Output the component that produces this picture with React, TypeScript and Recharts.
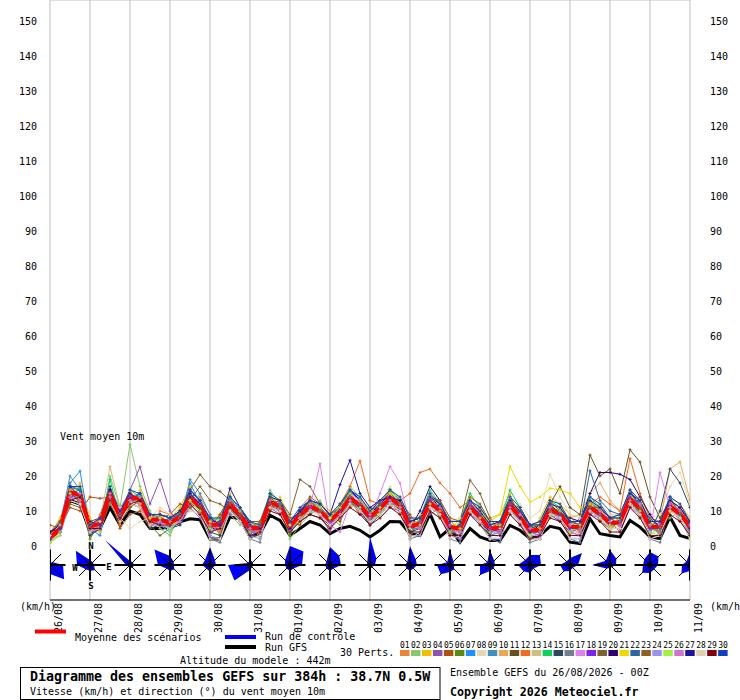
import React from 'react';
import { ComposedChart, Line, Scatter, XAxis, YAxis, CartesianGrid } from 'recharts';

const dayLabels = ['26/08','27/08','28/08','29/08','30/08','31/08','01/09','02/09','03/09','04/09','05/09','06/09','07/09','08/09','09/09','10/09','11/09'];
const dayTicks = [0, 4, 8, 12, 16, 20, 24, 28, 32, 36, 40, 44, 48, 52, 56, 60, 64];
const yTicks = [0, 10, 20, 30, 40, 50, 60, 70, 80, 90, 100, 110, 120, 130, 140, 150];

const meanRun = [2.4,5,15.4,14.5,5.6,6.4,15,8.3, 14,13.5,7.5,7.5,6.6,8.3,13.8,11.3, 6.1,6.1,12,8.8,5.1,5.1,12.6,11.3, 5.6,8.8,11.3,10,7.3,9.7,13.8,11.6, 8.3,10.7,13.8,11.6,5.6,6.4,12.3,10.2, 5.4,5,11,8.3,5,5.2,11.6,8.3, 4.3,4.7,10.4,9.2,5.4,5.4,11,9.2, 6.4,6.9,13.5,10.7,5.4,5.4,11.3,9.2, 5.6];
const gfsRun = [3,6,13,12,4,5,11,6, 10,9,5,5,5.5,6.9,7.8,7.5, 2,2,8.3,7.8,2.6,3.5,8.8,7.3, 3,5,7,6,3.5,5,5.6,4.5, 2.6,4.5,7,6.9,3.5,3,9.2,2.6, 5,1.1,5,2.6,1.6,1.6,5.9,4.5, 2.1,3,5.6,5,1.1,0.7,7.8,3.5, 3,2.6,7.3,5.4,2.6,2.1,8.3,3, 2.1];
const controlRun = [2,6,17,16,5,7,14,8, 13,15,9,8,6,9,16,13, 5,5,14,10,4,4,13,12, 6,10,13,11,8,11,16,13, 9,12,15,12,5,6,14,11, 5,4,12,9,4,5,13,9, 4,4,11,10,5,5,12,10, 6,7,15,12,5,5,12,9, 5];

const p01 = [4,7,18,13,3,9,17,6, 16,11,5,10,9,7,12,14, 9,4,10,11,7,3,15,9, 4,11,14,8,5,12,16,10, 6,13,16,9,3,8,14,13, 8,3,9,11,7,4,10,11, 6,3,13,8,3,7,13,7, 9,5,16,9,7,3,14,8, 7];
const p02 = [1,3,13,17,6,4,20,11, 29,17,10,5,3,9,10,15, 4,8,9,6,7,2,16,12, 2,6,9,13,8,6,17,14, 10,8,11,13,6,3,10,8, 3,7,13,6,2,6,9,6, 2,6,8,11,6,3,12,11, 4,8,11,12,3,6,8,10, 3];
const p03 = [3,8,14,18,8,4,13,9, 11,16,9,6,8,11,17,9, 7,9,15,7,4,7,10,14, 8,7,11,12,10,8,11,13, 9,11,15,14,8,5,15,9, 4,8,14,7,8,9,15,7, 3,8,14,12,9,4,10,12, 5,9,12,14,8,4,14,12, 8];
const p04 = [2,6,16,12,4,8,12,10, 16,22.6,12,19,10,6,11,8, 3,7,9,10,3,7,11,9, 7,10,13,9,4,11,15,9, 7,12,11,10,4,7,9,11, 6,2,12,10,3,7,13,6, 5,2,11,7,5,8,9,11, 7,4,11,12,4,7,13,7, 4];
const p05 = [6,5,11,10,14,13.6,14,5, 9,10,5,8,9,12,11,13, 5,9,14,8,6,3,10,13, 7,6,14,12,9,7,13,9, 11,9,16,13,9,5,11,12, 3,6,10,10,4,7,14,9, 6,4,12,8,7,6,10,8, 8,6,14,9,8,5,10,11, 6];
const p06 = [1,4,16,14,2,7,14,7, 12,11,6,3,5,10,14,11, 8,3,11,7,4,5,14,10, 3,9,9,11,6,10,12,11, 7,10,14,10,2,9,13,8, 6,4,11,7,6,3,12,9, 4,5,9,10,4,6,12,7, 5,7,15,8,6,4,12,10, 5];
const p07 = [3,4,18,21.4,5,3,15,10, 14,15,9,6,4,8,18,12, 5,6,13,9,2,6,13,11, 6,8,12,9,8,9,14,12, 8,12,13,11,5,7,12,11, 5,5,10,9,3,4,13,8, 3,6,11,10,4,5,10,9, 7,7,13,10,5,7,14,8, 6];
const p08 = [4,6,14,15,6,7,12,8, 5,7,8,11,9,8,10,9, 7,8,14,10,7,4,11,13, 7,11,13,10,9,8,12,13, 11,12,17,11,7,9,14,12, 7,8,13,11,7,5,14,12, 8,10,20.5,14,9,8,14,12, 9,9,16,13,8,9,17,21, 12];
const p09 = [2,6,20,16,4,6,16,11, 15,12,6,9,8,7,19,15, 9,5,14,8,5,5,11,12, 4,10,10,11,6,11,13,11, 10,12,13,12,5,5,11,9, 5,6,10,7,6,4,10,8, 4,3,9,8,5,5,13,10, 6,8,12,11,5,4,11,9, 4];
const p10 = [3,4,15,14,7,5,16,9, 13,14,6,9,6,8,13,10, 6,7,11,10,4,6,14,10, 7,8,10,11,7,9,15,13, 9,10,13,12,6,5,13,10, 5,4,12,8,5,6,11,9, 6,5,10,11,8,9,15,18, 13,10,14,11,7,7,22,24, 13];
const p11 = [4,5,14,15,7,8,16,8, 13,13,9,8,7,9,12,11, 7,5,13,9,6,4,12,10, 5,10,12,9,8,10,13,13, 8,9,15,10,7,6,13,11, 6,5,11,8,4,6,11,10, 5,6,12,17,11,9,26,20, 22,15,27.5,24,14,8,13,11, 7];
const p12 = [2,6,16,13,5,8,13,7, 15,12,7,6,5,9,14,12, 6,4,10,8,5,7,12,13, 5,10,13,10,9,12,17,24.3, 13,12,16,13,15,21,22,18, 15,11,13,10,5,7,12,8, 4,6,12,9,6,5,12,14, 12,10,25,15,8,7,13,10, 6];
const p13 = [3,5,13,12,4,7,22.7,11, 12,11,7,8,7,8,12,10, 5,7,11,8,6,5,13,11, 6,8,10,11,8,8,12,10, 7,11,12,11,5,7,11,9, 4,6,10,8,4,6,10,9, 5,4,11,9,4,4,12,8, 5,6,12,9,6,6,13,9, 5];
const p14 = [3,6,17,16,6,5,19,8, 16,14,8,9,8,10,15,12, 7,8,14,11,7,7,15,11, 7,10,13,10,9,11,16,14, 10,13,16,13,7,8,16,12, 7,7,15,11,6,7,16,11, 6,6,13,11,7,7,14,11, 8,8,15,12,6,3,10,8, 3];
const p15 = [2,7,15,13,3,5,13,7, 14,12,5,6,5,6,12,9, 4,3,10,7,3,3,11,10, 4,7,9,8,6,8,12,10, 6,9,12,10,4,5,11,9, 4,3,9,7,3,3,10,7, 2,3,9,7,4,3,10,8, 5,5,12,9,4,10,22,18, 11];
const p16 = [1,5,15,14,4,5,13,7, 13,14,6,6,5,7,14,10, 2,1,12,7,2,1,13,10, 4,7,11,9,6,8,13,10, 7,9,13,10,2,3,12,9, 2,1,11,7,2,1,11,7, 1,2,10,8,2,1,11,8, 5,5,13,9,2,1,11,8, 2];
const p17 = [2,3,13,12,4,5,13,7, 12,11,6,6,5,7,12,9, 4,5,10,7,4,4,11,10, 5,8,11,23.5,6,4,12,10, 8,15,22.7,18,6,5,11,9, 4,4,10,7,4,4,10,7, 3,3,9,8,4,3,9,8, 5,5,11,9,4,21,11,7, 4];
const p18 = [2,6,14,15,6,8,15,9, 14,13,9,7,6,7,15,12, 7,7,11,9,6,4,12,12, 5,9,11,10,7,10,13,12, 9,10,14,11,7,6,13,11, 6,5,12,9,5,4,12,9, 5,4,11,9,5,6,11,10, 7,6,14,12,5,6,12,10, 6];
const p19 = [4,7,13,15,7,6,15,10, 11,13,9,7,8,10,16,20.4, 17,15.6,13,9,7,5,12,13, 9,19,17,12,9,9,13,13, 10,10,15,11,7,8,12,11, 7,7,18.8,15,8,4,11,10, 6,4,10,10,7,4,12,8, 8,6,12,12,7,4,10,10, 4];
const p20 = [2,4,16,13,4,7,16,8, 15,12,7,8,5,9,14,10, 5,7,11,10,4,6,13,10, 5,10,12,9,6,11,15,11, 7,12,13,13,5,10,17,13, 5,6,12,7,4,6,13,8, 4,6,12,9,8,7,15,21, 21,20.5,19,14,9,5,13,9, 5];
const p21 = [1,4,16,13,7,5,14,9, 15,12,8,9,6,7,13,12, 7,5,13,8,6,4,11,12, 7,8,12,9,8,9,13,13, 10,10,15,11,7,6,12,12, 7,5,13,10,7,9,22.7,17, 12.6,14,16.5,16,15,11,12,10, 6,8,12,12,7,5,13,9, 7];
const p22 = [4,6,15,16,5,7,14,10, 13,15,7,6,8,7,15,10, 5,7,13,8,4,6,11,12, 4,10,10,11,6,11,13,11, 7,12,13,13,5,7,11,11, 4,6,10,9,4,6,11,10, 6,4,12,9,7,6,21.5,13, 10,9,16,11,8,5,14,9, 7];
const p23 = [2,5,12,11,6,5,12,7, 11,13,6,8,7,10,13,17, 13,12,10,10,7,7,14,11, 8,9,13,10,9,11,12,12, 10,12,12,12,7,8,14,13, 8,7,14,12,7,7,12,11, 6,7,13,10,7,7,11,11, 8,9,13,11,7,7,10,11, 7];
const p24 = [3,4,13,15,4,5,15,8, 12,14,9,7,5,7,12,12, 3,2,10,8,3,2,11,10, 4,7,10,9,6,8,12,10, 7,9,12,10,3,3,11,9, 3,2,9,7,2,2,10,7, 2,2,9,8,2,2,9,8, 5,5,12,9,2,3,11,8, 3];
const p25 = [1,3,15,14,5,7,17,9, 13,12,7,8,4,9,13,10, 5,8,11,10,4,6,14,13, 6,7,13,11,8,11,15,11, 10,9,15,14,5,8,14,12, 4,7,13,10,4,6,13,10, 3,6,12,10,4,6,13,11, 5,8,15,10,4,3,10,8, 2];
const p26 = [2,5,14,13,4,6,14,10, 13,12,6,7,7,7,12,12, 6,5,13,8,5,4,13,10, 7,8,12,9,6,9,13,13, 9,10,13,11,7,5,11,11, 6,4,12,7,6,4,11,9, 5,4,11,8,6,4,10,10, 7,6,13,12,6,4,12,10, 6];
const p27 = [4,6,17,14,7,6,16,10, 15,13,9,9,8,10,15,12, 8,6,16.5,11,6,5,14,13, 7,10,13,12,9,17.5,24.5,15, 11,13,14,13,7,8,14,12, 7,7,13,10,6,7,13,10, 6,6,12,11,7,7,13,11, 8,8,15,13,7,7,13,11, 7];
const p28 = [3,6,13,12,4,7,13,7, 12,11,6,8,5,9,12,9, 2,2,10,7,2,3,11,10, 4,7,10,9,6,8,12,10, 7,9,12,10,2,4,11,9, 2,3,10,7,2,3,10,7, 2,2,9,8,2,3,10,8, 5,5,12,9,2,3,10,8, 2];
const p29 = [4,5,13,14,5,5,13,8, 12,13,7,6,6,8,12,9, 4,5,11,8,3,4,10,9, 4,7,9,8,5,8,11,9, 6,8,11,9,4,4,10,8, 3,3,9,6,3,3,9,6, 2,3,8,7,3,3,9,7, 4,4,11,8,3,3,9,7, 3];
const p30 = [2,5,17,17,6,8,17,9, 16,15,9,9,8,9,16,13, 8,8,14,11,7,6,15,13, 7,11,13,12,9,12,16,14, 10,13,16,14,8,8,15,12, 7,7,13,11,7,7,14,11, 6,7,13,12,7,7,14,12, 8,9,16,13,7,7,14,12, 7];

const perts = [p01,p02,p03,p04,p05,p06,p07,p08,p09,p10,p11,p12,p13,p14,p15,p16,p17,p18,p19,p20,p21,p22,p23,p24,p25,p26,p27,p28,p29,p30];
const pertLabels = ['01','02','03','04','05','06','07','08','09','10','11','12','13','14','15','16','17','18','19','20','21','22','23','24','25','26','27','28','29','30'];
const pertColors = ['#e8843a','#88c870','#f0c000','#9050b0','#b05010','#5a8a10','#1e90ff','#e8d8b0','#4090c0','#e8a858','#6a5020','#f06a20','#d0c080','#10d060','#284860','#708090','#e080f0','#8020f0','#806030','#300070','#f0d800','#2868a0','#906020','#a090f0','#a0f040','#d070d0','#2010a0','#e0d0b0','#800010','#1040c0'];

// wind direction distribution per day: N, NE, E, SE, S, SW, W, NW
const roseFreq = [
  [2, 4, 13, 20, 9, 8, 6, 4],
  [5, 4, 4, 7, 6, 6, 13, 20],
  [4, 4, 4, 4, 3, 2, 4, 35],
  [9, 5, 4, 6, 6, 5, 12, 22],
  [18, 7, 6, 4, 7, 5, 8, 7],
  [5, 4, 3, 3, 5, 22, 22, 3],
  [19, 19, 12, 5, 6, 5, 5, 7],
  [18, 13, 11, 5, 6, 5, 5, 5],
  [28, 9, 5, 3, 5, 3, 3, 4],
  [19, 8, 7, 5, 6, 5, 5, 4],
  [15, 5, 4, 6, 7, 13, 13, 4],
  [15, 6, 5, 5, 6, 14, 10, 4],
  [10, 14, 11, 5, 8, 9, 12, 7],
  [7, 17, 8, 4, 6, 9, 10, 5],
  [15, 9, 6, 3, 3, 5, 18, 6],
  [13, 12, 8, 6, 8, 11, 7, 8],
  [13, 15, 8, 6, 6, 12, 8, 5],
];

const ROSE_LEVEL = -5.43;
const MONO = '"DejaVu Sans Mono", monospace';

const rows = meanRun.map((m, i) => {
  const r: any = { step: i, mean: m, ctrl: controlRun[i], gfs: gfsRun[i] };
  perts.forEach((p, k) => { r['p' + k] = p[i]; });
  return r;
});
const roseRows = roseFreq.map((f, k) => ({ step: dayTicks[k], y: ROSE_LEVEL, freq: f, compass: k === 1 }));

const makeCross = (color: string) => (p: any) => {
  if (p.cx == null || p.cy == null) return <g key={'d' + p.index} />;
  return <path key={'d' + p.index} d={`M${p.cx - 1.5},${p.cy}h3M${p.cx},${p.cy - 1.5}v3`} stroke={color} strokeWidth={1} fill="none" />;
};

const DIRS = [0, 45, 90, 135, 180, 225, 270, 315];
const RoseShape = (props: any) => {
  const { cx, cy, payload } = props;
  if (cx == null || cy == null) return <g />;
  const pts = payload.freq.map((r: number, j: number) => {
    const a = (DIRS[j] * Math.PI) / 180;
    return `${cx + r * Math.sin(a)},${cy - r * Math.cos(a)}`;
  }).join(' ');
  const L = 15.5;
  const D = 11;
  return (
    <g>
      <polygon points={pts} fill="#0000ff" />
      <line x1={cx - L} y1={cy} x2={cx + L} y2={cy} stroke="#000" strokeWidth={2} />
      <line x1={cx} y1={cy - L} x2={cx} y2={cy + L} stroke="#000" strokeWidth={2} />
      <line x1={cx - D} y1={cy - D} x2={cx + D} y2={cy + D} stroke="#000" strokeWidth={1} />
      <line x1={cx - D} y1={cy + D} x2={cx + D} y2={cy - D} stroke="#000" strokeWidth={1} />
      <circle cx={cx} cy={cy} r={2.5} fill="#000" />
      {payload.compass && (
        <g fontFamily={MONO} fontSize={9} fontWeight="bold" fill="#000" textAnchor="middle">
          <text x={cx + 1} y={cy - 16}>N</text>
          <text x={cx - 15} y={cy + 6}>W</text>
          <text x={cx + 19} y={cy + 5}>E</text>
          <text x={cx + 1} y={cy + 24}>S</text>
        </g>
      )}
    </g>
  );
};

const DateTick = (props: any) => {
  const { x, y, payload } = props;
  const idx = dayTicks.indexOf(payload.value);
  const tx = x + 11.5;
  return (
    <text x={tx} y={y} transform={`rotate(-90 ${tx} ${y})`} textAnchor="end" fontSize={10} fontFamily={MONO} fill="#000">
      {dayLabels[idx]}
    </text>
  );
};

const Overlay = () => (
  <svg width={740} height={700} style={{ position: 'absolute', left: 0, top: 0, pointerEvents: 'none' }}>
    <g fontFamily={MONO} fontSize={10} fill="#000">
      <text x={60} y={440}>Vent moyen 10m</text>
      <text x={20} y={610}>(km/h)</text>
      <text x={710} y={610}>(km/h)</text>
      <line x1={35} y1={631.5} x2={66} y2={631.5} stroke="#ff0000" strokeWidth={4} />
      <text x={75} y={641}>Moyenne des scénarios</text>
      <line x1={225} y1={637} x2={256} y2={637} stroke="#0000ff" strokeWidth={4} />
      <text x={265} y={640}>Run de contrôle</text>
      <line x1={225} y1={647} x2={256} y2={647} stroke="#000" strokeWidth={4} />
      <text x={265} y={650.5}>Run GFS</text>
      <text x={340} y={656}>30 Perts.</text>
      <text x={180} y={664}>Altitude du modele : 442m</text>
      <text x={450} y={676}>Ensemble GEFS du 26/08/2026 - 00Z</text>
      <text x={30} y={695}>Vitesse (km/h) et direction (°) du vent moyen 10m</text>
    </g>
    <g fontFamily={MONO} fontSize={8} fill="#000">
      {pertLabels.map((l, k) => (
        <text key={l} x={400 + k * 10.97} y={647.5}>{l}</text>
      ))}
    </g>
    {pertColors.map((c, k) => (
      <rect key={c + k} x={400 + k * 10.97} y={650} width={9.5} height={6} fill={c} />
    ))}
    <rect x={20.5} y={667.5} width={419.5} height={32} fill="none" stroke="#000" strokeWidth={1} />
    <text x={30} y={681} fontFamily={MONO} fontSize={13.3} fontWeight="bold" fill="#000">Diagramme des ensembles GEFS sur 384h : 38.7N 0.5W</text>
    <text x={450} y={696} fontFamily={MONO} fontSize={11.6} fontWeight="bold" fill="#000">Copyright 2026 Meteociel.fr</text>
  </svg>
);

export default function App() {
  return (
    <div style={{ position: 'absolute', left: 0, top: 0, width: 740, height: 700, background: '#fff' }}>
      <ComposedChart width={740} height={700} data={rows} margin={{ top: 0, right: 0, bottom: 0, left: 0 }}>
        <CartesianGrid stroke="#c0c0c0" strokeWidth={1} />
        <XAxis
          dataKey="step"
          type="number"
          domain={[0, 64]}
          ticks={dayTicks}
          interval={0}
          height={100}
          tickLine={false}
          tickSize={0}
          tickMargin={3}
          axisLine={{ stroke: '#000', strokeWidth: 1 }}
          tick={<DateTick />}
          allowDataOverflow
        />
        <YAxis
          yAxisId="left"
          orientation="left"
          type="number"
          width={50}
          domain={[-15.43, 156]}
          ticks={yTicks}
          interval={0}
          allowDataOverflow
          axisLine={false}
          tickLine={false}
          tickSize={0}
          tickMargin={13}
          tick={{ fill: '#000', fontSize: 10, fontFamily: MONO }}
        />
        <YAxis
          yAxisId="right"
          orientation="right"
          type="number"
          width={50}
          domain={[-15.43, 156]}
          ticks={yTicks}
          interval={0}
          allowDataOverflow
          axisLine={false}
          tickLine={false}
          tickSize={0}
          tickMargin={20}
          tick={{ fill: '#000', fontSize: 10, fontFamily: MONO, textAnchor: 'start' }}
        />
        <Scatter yAxisId="left" data={roseRows} dataKey="y" shape={RoseShape} isAnimationActive={false} />
        <Line yAxisId="left" type="linear" dataKey="gfs" stroke="#000" strokeWidth={3} dot={false} activeDot={false} isAnimationActive={false} />
        <Line yAxisId="left" type="linear" dataKey="ctrl" stroke="#0000ff" strokeWidth={1.5} dot={makeCross('#0000ff')} activeDot={false} isAnimationActive={false} />
        {perts.map((_, k) => (
          <Line
            key={'p' + k}
            yAxisId="left"
            type="linear"
            dataKey={'p' + k}
            stroke={pertColors[k]}
            strokeWidth={1}
            dot={makeCross(pertColors[k])}
            activeDot={false}
            isAnimationActive={false}
          />
        ))}
        <Line yAxisId="left" type="linear" dataKey="mean" stroke="#ff0000" strokeWidth={4} dot={false} activeDot={false} isAnimationActive={false} />
      </ComposedChart>
      <Overlay />
    </div>
  );
}
